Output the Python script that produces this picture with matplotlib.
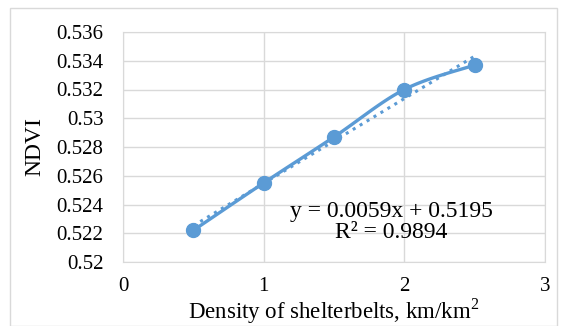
import numpy as np
import matplotlib.pyplot as plt
from matplotlib.patches import Rectangle

density = [0.5, 1.0, 1.5, 2.0, 2.5]
ndvi = [0.5222, 0.5255, 0.5287, 0.5320, 0.5337]
x_ticks = [0, 1, 2, 3]
y_ticks = [0.52, 0.522, 0.524, 0.526, 0.528, 0.53, 0.532, 0.534, 0.536]
y_labels = ['0.52', '0.522', '0.524', '0.526', '0.528', '0.53', '0.532', '0.534', '0.536']

blue = '#5B9BD5'
grid = '#D9D9D9'


def smooth(xs, ys, n=30):
    # catmull-rom style curve, like excel's smoothed line
    xs = np.asarray(xs)
    ys = np.asarray(ys)
    px = np.concatenate([[xs[0]], xs, [xs[-1]]])
    py = np.concatenate([[ys[0]], ys, [ys[-1]]])
    out_x, out_y = [], []
    for i in range(1, len(px) - 2):
        t = np.linspace(0, 1, n)
        c1x = px[i] + (px[i + 1] - px[i - 1]) / 6
        c1y = py[i] + (py[i + 1] - py[i - 1]) / 6
        c2x = px[i + 1] - (px[i + 2] - px[i]) / 6
        c2y = py[i + 1] - (py[i + 2] - py[i]) / 6
        bx = (1 - t)**3 * px[i] + 3 * (1 - t)**2 * t * c1x + 3 * (1 - t) * t**2 * c2x + t**3 * px[i + 1]
        by = (1 - t)**3 * py[i] + 3 * (1 - t)**2 * t * c1y + 3 * (1 - t) * t**2 * c2y + t**3 * py[i + 1]
        out_x.extend(bx)
        out_y.extend(by)
    return out_x, out_y


plt.rcParams['font.family'] = ['Liberation Serif', 'DejaVu Serif']
plt.rcParams['mathtext.fontset'] = 'custom'
plt.rcParams['mathtext.rm'] = 'Liberation Serif'

fig = plt.figure(figsize=(5.67, 3.26), dpi=100)
fig.patches.append(Rectangle((10 / 567, 0), 547 / 567, 1 - 8 / 326, transform=fig.transFigure,
                             fill=False, edgecolor=grid, linewidth=1))
ax = fig.add_axes([123 / 567, 1 - 262 / 326, 422 / 567, 230 / 326])

sx, sy = smooth(density, ndvi)
ax.plot(sx, sy, color=blue, linewidth=2.4, zorder=3)
ax.plot(density, ndvi, 'o', color=blue, markersize=10, zorder=4)

k, b = np.polyfit(density, ndvi, 1)
fx = np.array([density[0], density[-1]])
ax.plot(fx, k * fx + b, ':', color=blue, linewidth=2.2, zorder=2)

ax.set_xlim(0, 3)
ax.set_ylim(0.52, 0.536)
ax.set_xticks(x_ticks)
ax.set_xticklabels([str(v) for v in x_ticks])
ax.set_yticks(y_ticks)
ax.set_yticklabels(y_labels)
ax.grid(True, color=grid, linewidth=1)
ax.set_axisbelow(True)
for s in ax.spines.values():
    s.set_color(grid)
ax.tick_params(length=0, labelsize=15, pad=14)
ax.tick_params(axis='x', pad=11)

ax.set_xlabel('Density of shelterbelts, km/km$^{\\mathrm{2}}$', fontsize=16.5, labelpad=0)
ax.set_ylabel('NDVI', fontsize=17, labelpad=8)

ax.text(1.91, 0.5228, 'y = 0.0059x + 0.5195\nR² = 0.9894', fontsize=17,
        ha='center', va='center', linespacing=1.0)

fig.savefig('out.png', dpi=100)
